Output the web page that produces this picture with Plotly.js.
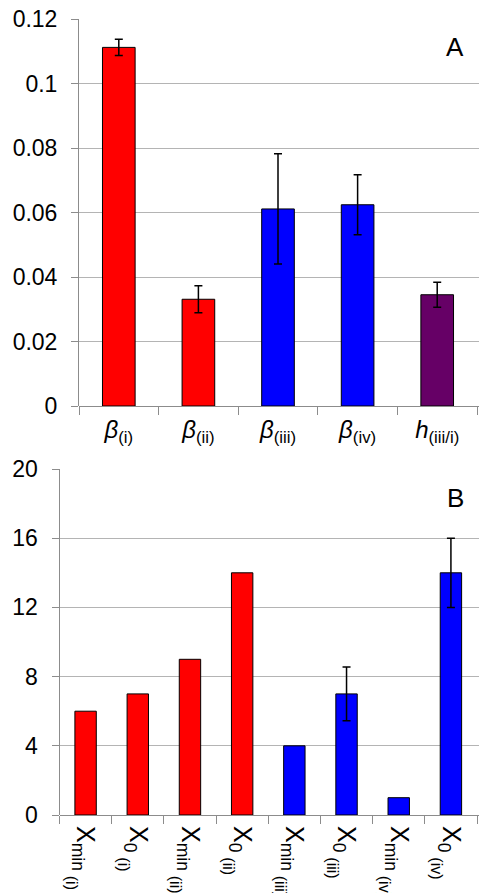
<!DOCTYPE html>
<html><head><meta charset="utf-8">
<script src="https://cdn.plot.ly/plotly-3.0.1.min.js"></script>
<style>html,body{margin:0;padding:0;background:#fff;}#c{width:479px;height:893px;}</style>
</head><body><div id="c"></div>
<script>
// Panel A
const catsA = ["<i>β</i><sub>(i)</sub>", "<i>β</i><sub>(ii)</sub>", "<i>β</i><sub>(iii)</sub>", "<i>β</i><sub>(iv)</sub>", "<i>h</i><sub>(iii/i)</sub>"];
const valsA = [0.1112, 0.0331, 0.0611, 0.0624, 0.0345];
const errA  = [0.0025, 0.0042, 0.0171, 0.0093, 0.0039];
const colA  = ["#ff0000", "#ff0000", "#0000ff", "#0000ff", "#660066"];
const ticksA = [0, 0.02, 0.04, 0.06, 0.08, 0.1, 0.12];
const tickTextA = ["0", "0.02", "0.04", "0.06", "0.08", "0.1", "0.12"];
// Panel B
const catsB = ["X<sub>min <sub><sub><span style='font-size:16px'>(i)</span></sub></sub></sub>",
               "X<sub>0 <sub><sub><span style='font-size:16px'>(i)</span></sub></sub></sub>",
               "X<sub>min <sub><sub><span style='font-size:16px'>(ii)</span></sub></sub></sub>",
               "X<sub>0 <sub><sub><span style='font-size:16px'>(ii)</span></sub></sub></sub>",
               "X<sub>min <sub><sub><span style='font-size:16px'>(iii)</span></sub></sub></sub>",
               "X<sub>0 <sub><sub><span style='font-size:16px'>(iii)</span></sub></sub></sub>",
               "X<sub>min <sub><sub><span style='font-size:16px'>(iv)</span></sub></sub></sub>",
               "X<sub>0 <sub><sub><span style='font-size:16px'>(iv)</span></sub></sub></sub>"];
const valsB = [6, 7, 9, 14, 4, 7, 1, 14];
const errB  = [null, null, null, null, null, 1.55, null, 2.0];
const colB  = ["#ff0000", "#ff0000", "#ff0000", "#ff0000", "#0000ff", "#0000ff", "#0000ff", "#0000ff"];
const ticksB = [0, 4, 8, 12, 16, 20];

const W = 479, H = 893;
const font = {family: "Liberation Sans, Arial, sans-serif", color: "#000"};
const grid = "#b4b4b4", axc = "#8c8c8c";

// only bars with an error value get an error bar
const errCatsB = catsB.filter((c, i) => errB[i] !== null);
const errValsB = valsB.filter((v, i) => errB[i] !== null);
const errOnlyB = errB.filter(e => e !== null);

const traces = [
  {type: "bar", x: catsA, y: valsA, xaxis: "x", yaxis: "y", width: 0.41,
   marker: {color: colA, line: {color: "#000", width: 1}},
   error_y: {type: "data", array: errA, visible: true, color: "#000", thickness: 1.5, width: 4},
   hoverinfo: "none"},
  {type: "bar", x: catsB, y: valsB, xaxis: "x2", yaxis: "y2", width: 0.41,
   marker: {color: colB, line: {color: "#000", width: 1}},
   hoverinfo: "none"},
  {type: "scatter", mode: "markers", x: errCatsB, y: errValsB, xaxis: "x2", yaxis: "y2",
   marker: {size: 1, opacity: 0},
   error_y: {type: "data", array: errOnlyB, visible: true, color: "#000", thickness: 1.5, width: 4},
   hoverinfo: "none"}
];

const layout = {
  width: W, height: H, showlegend: false,
  margin: {l: 0, r: 0, t: 0, b: 0},
  paper_bgcolor: "#fff", plot_bgcolor: "#fff",
  font: Object.assign({size: 23}, font),
  xaxis: {domain: [79/W, 1], anchor: "y", type: "category", range: [-0.5, 4.525],
    showgrid: false, showline: false, ticks: "outside", tickson: "boundaries",
    ticklen: 8, tickcolor: axc, ticklabelstandoff: 7,
    tickfont: Object.assign({size: 24}, font), automargin: false},
  yaxis: {domain: [(H-406)/H, (H-19)/H], anchor: "x", range: [0, 0.12],
    tickvals: ticksA, ticktext: tickTextA, showgrid: true, gridcolor: grid, gridwidth: 1,
    showline: true, linecolor: axc, linewidth: 1, ticks: "outside", ticklen: 7, tickcolor: axc,
    ticklabelstandoff: 9,
    zeroline: true, zerolinecolor: axc, zerolinewidth: 1,
    tickfont: Object.assign({size: 23}, font), automargin: false},
  xaxis2: {domain: [59.5/W, 1], anchor: "y2", type: "category", range: [-0.5, 7.538],
    showgrid: false, showline: false, ticks: "outside", tickson: "boundaries",
    ticklen: 8, tickcolor: axc, tickangle: 90, ticklabelstandoff: 10,
    tickfont: Object.assign({size: 25}, font), automargin: false},
  yaxis2: {domain: [(H-815)/H, (H-469)/H], anchor: "x2", range: [0, 20],
    tickvals: ticksB, showgrid: true, gridcolor: grid, gridwidth: 1,
    showline: true, linecolor: axc, linewidth: 1, ticks: "outside", ticklen: 7, tickcolor: axc,
    ticklabelstandoff: 9,
    zeroline: true, zerolinecolor: axc, zerolinewidth: 1,
    tickfont: Object.assign({size: 23}, font), automargin: false},
  annotations: [
    {text: "A", xref: "paper", yref: "paper", x: 455/W, y: (H-47)/H, showarrow: false,
     xanchor: "center", yanchor: "middle", font: Object.assign({size: 26}, font)},
    {text: "B", xref: "paper", yref: "paper", x: 455/W, y: (H-498)/H, showarrow: false,
     xanchor: "center", yanchor: "middle", font: Object.assign({size: 26}, font)}
  ]
};
Plotly.newPlot("c", traces, layout, {displayModeBar: false, staticPlot: true});
</script></body></html>
